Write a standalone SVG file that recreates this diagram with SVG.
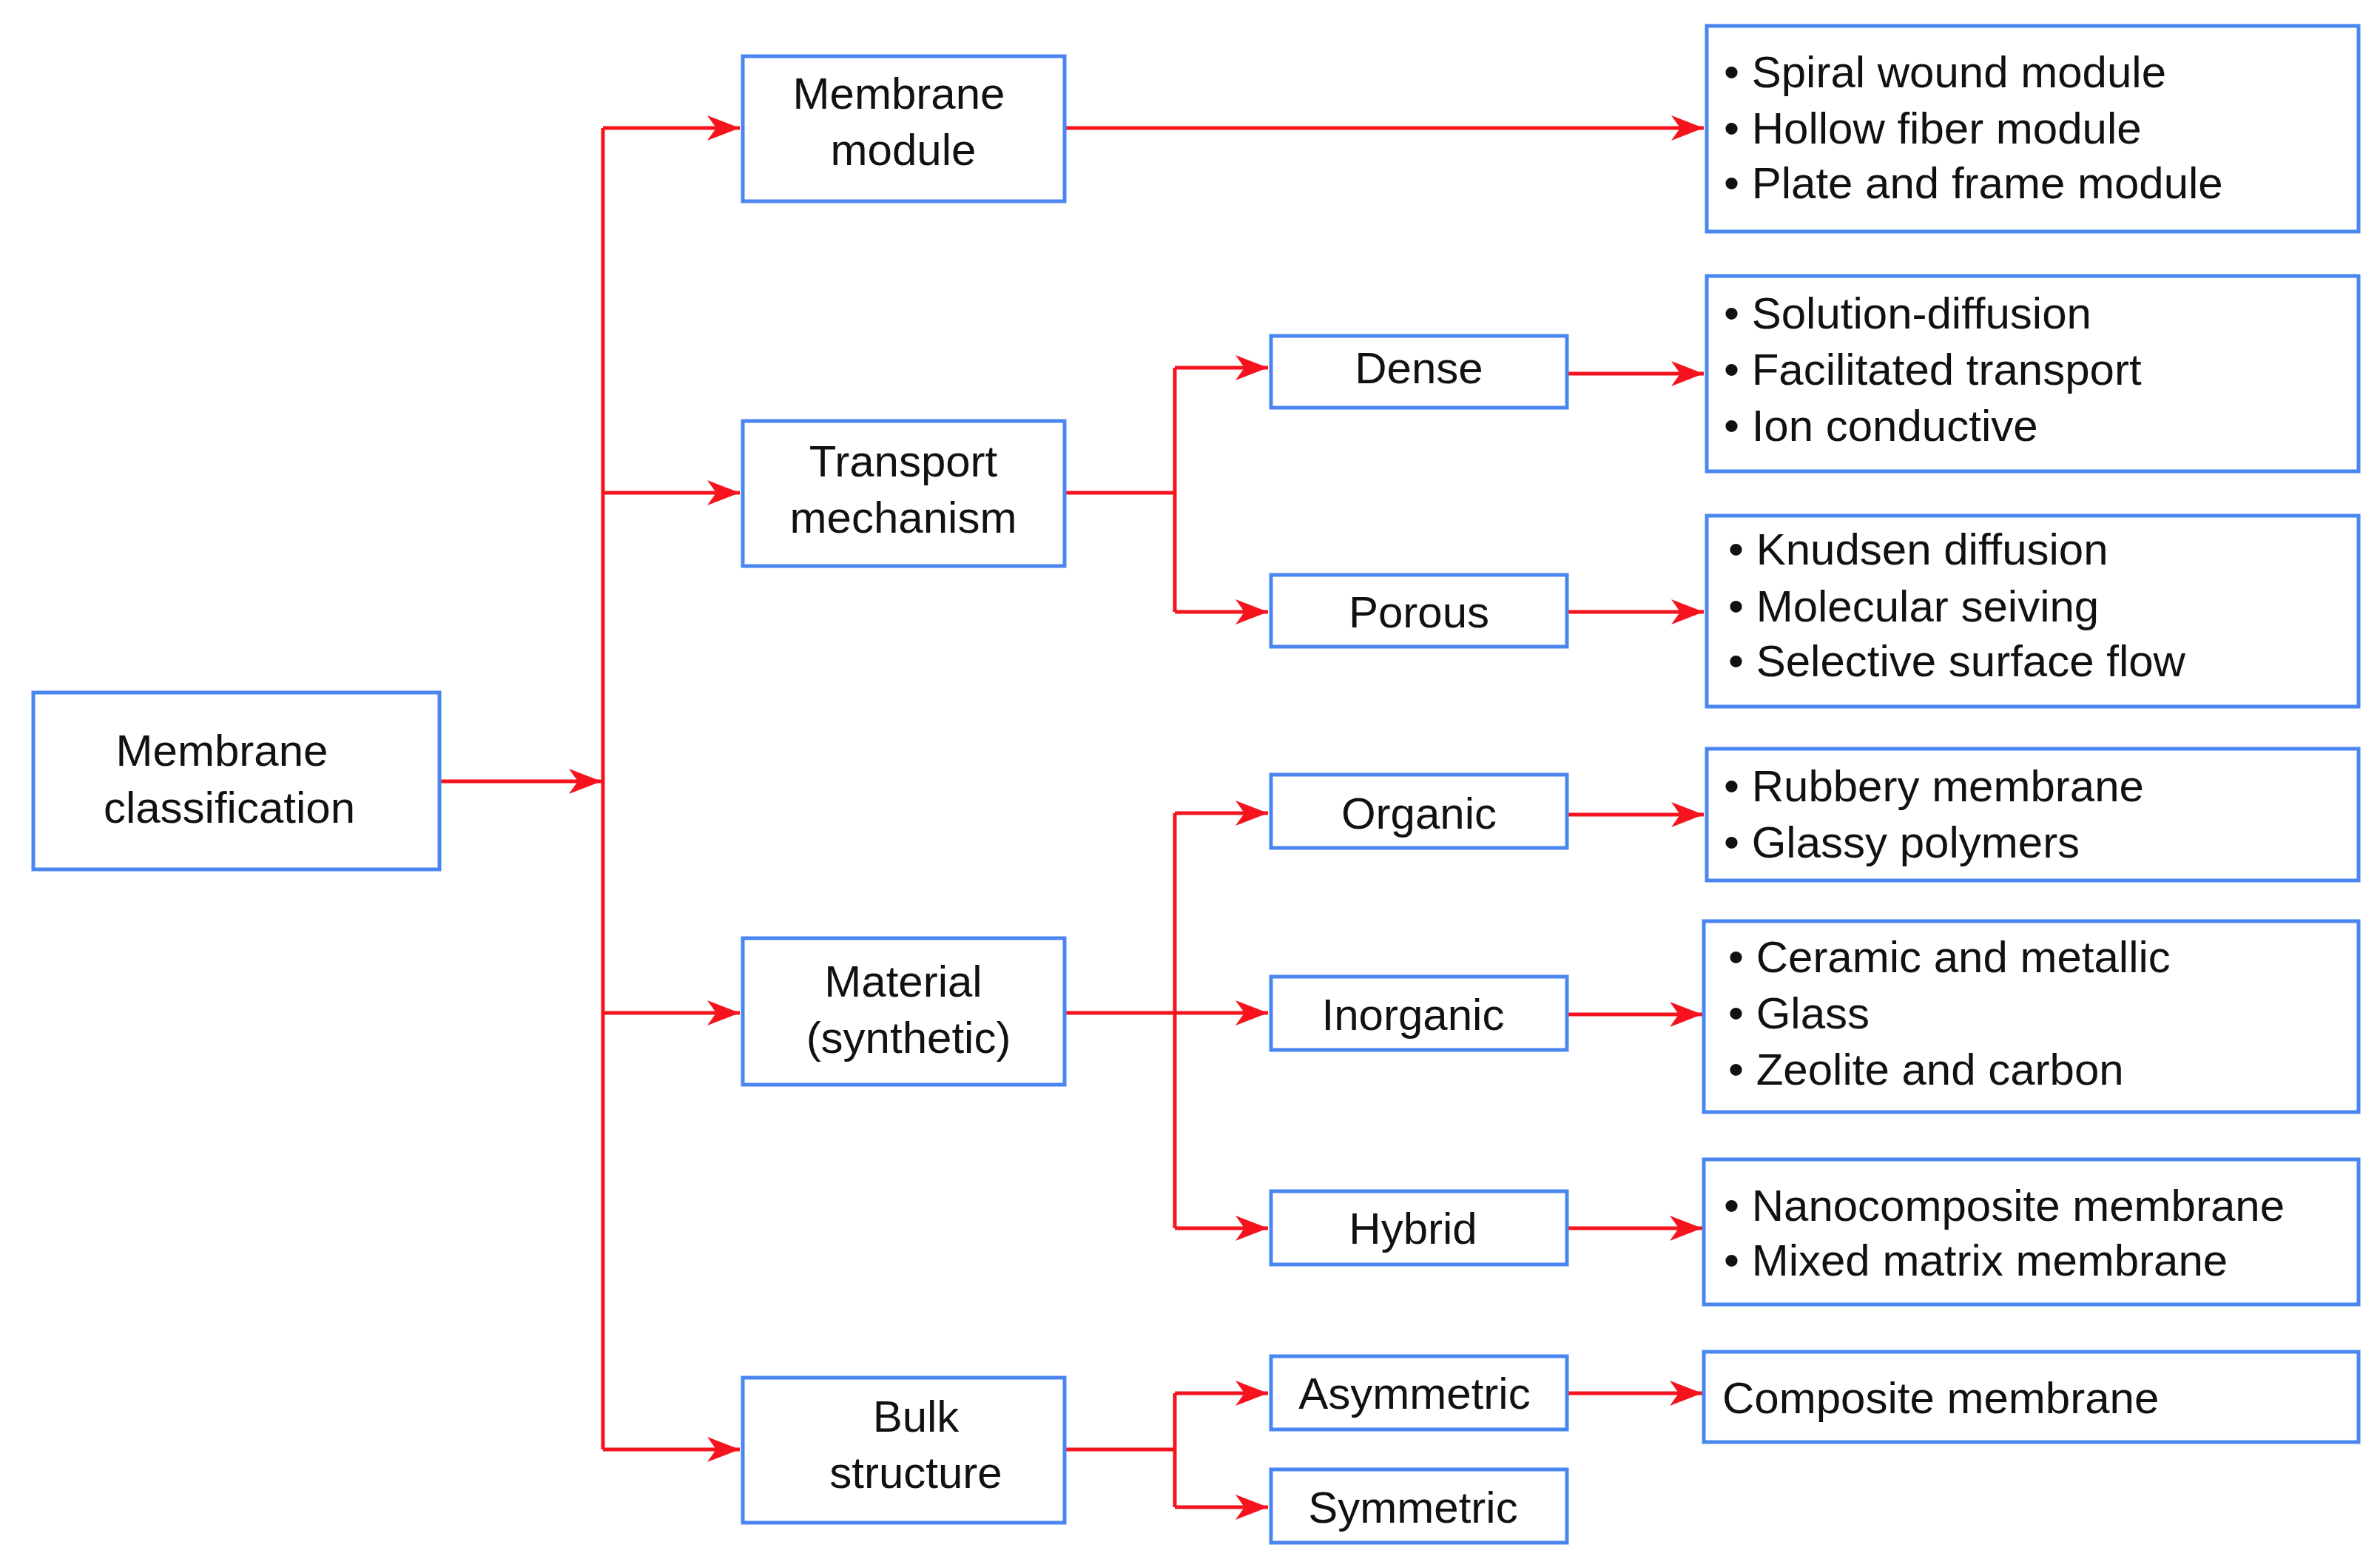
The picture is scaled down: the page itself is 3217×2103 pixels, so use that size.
<svg xmlns="http://www.w3.org/2000/svg" width="3217" height="2103" viewBox="0 0 3217 2103">
<style>
.b{fill:#fff;stroke:#4a86f0;stroke-width:5}
.t{font-family:"Liberation Sans",Arial,sans-serif;font-size:60px;fill:#111;dominant-baseline:central}
.m{text-anchor:middle}
.c{fill:none;stroke:#f5141e;stroke-width:5}
</style>
<defs>
<marker id="a" markerUnits="userSpaceOnUse" markerWidth="46" markerHeight="36" refX="44" refY="17" orient="auto">
<path d="M0,0 L44,17 L0,34 L12,17 z" fill="#f5141e"/>
</marker>
</defs>
<rect width="3217" height="2103" fill="#fff"/>
<g id="connectors">
<path class="c" d="M594,1056H813" marker-end="url(#a)"/>
<path class="c" d="M815,173V1959"/>
<path class="c" d="M815,173H1000" marker-end="url(#a)"/>
<path class="c" d="M815,666H1000" marker-end="url(#a)"/>
<path class="c" d="M815,1369H1000" marker-end="url(#a)"/>
<path class="c" d="M815,1959H1000" marker-end="url(#a)"/>
<path class="c" d="M1439,173H2303" marker-end="url(#a)"/>
<path class="c" d="M1439,666H1588"/>
<path class="c" d="M1588,497V827"/>
<path class="c" d="M1588,497H1714" marker-end="url(#a)"/>
<path class="c" d="M1588,827H1714" marker-end="url(#a)"/>
<path class="c" d="M1439,1369H1714" marker-end="url(#a)"/>
<path class="c" d="M1588,1099V1660"/>
<path class="c" d="M1588,1099H1714" marker-end="url(#a)"/>
<path class="c" d="M1588,1660H1714" marker-end="url(#a)"/>
<path class="c" d="M1439,1959H1588"/>
<path class="c" d="M1588,1883V2037"/>
<path class="c" d="M1588,1883H1714" marker-end="url(#a)"/>
<path class="c" d="M1588,2037H1714" marker-end="url(#a)"/>
<path class="c" d="M2118,505H2303" marker-end="url(#a)"/>
<path class="c" d="M2118,827H2303" marker-end="url(#a)"/>
<path class="c" d="M2118,1101H2303" marker-end="url(#a)"/>
<path class="c" d="M2118,1371H2301" marker-end="url(#a)"/>
<path class="c" d="M2118,1660H2301" marker-end="url(#a)"/>
<path class="c" d="M2118,1883H2301" marker-end="url(#a)"/>
</g>
<g id="classification"><rect class="b" x="45" y="936" width="549" height="239"/><text class="t m" x="300" y="1014">Membrane</text><text class="t m" x="310" y="1091">classification</text></g>
<g id="module"><rect class="b" x="1004" y="76" width="435" height="196"/><text class="t m" x="1215" y="126">Membrane</text><text class="t m" x="1221" y="202">module</text></g>
<g id="transport"><rect class="b" x="1004" y="569" width="435" height="196"/><text class="t m" x="1221" y="623">Transport</text><text class="t m" x="1221" y="699">mechanism</text></g>
<g id="material"><rect class="b" x="1004" y="1268" width="435" height="198"/><text class="t m" x="1221" y="1326">Material</text><text class="t m" x="1228" y="1402">(synthetic)</text></g>
<g id="bulk"><rect class="b" x="1004" y="1862" width="435" height="196"/><text class="t m" x="1238" y="1914">Bulk</text><text class="t m" x="1238" y="1990">structure</text></g>
<g id="dense"><rect class="b" x="1718" y="454" width="400" height="97"/><text class="t m" x="1918" y="497">Dense</text></g>
<g id="porous"><rect class="b" x="1718" y="777" width="400" height="97"/><text class="t m" x="1918" y="827">Porous</text></g>
<g id="organic"><rect class="b" x="1718" y="1047" width="400" height="99"/><text class="t m" x="1918" y="1099">Organic</text></g>
<g id="inorganic"><rect class="b" x="1718" y="1320" width="400" height="99"/><text class="t m" x="1910" y="1371">Inorganic</text></g>
<g id="hybrid"><rect class="b" x="1718" y="1610" width="400" height="99"/><text class="t m" x="1910" y="1660">Hybrid</text></g>
<g id="asymmetric"><rect class="b" x="1718" y="1833" width="400" height="99"/><text class="t m" x="1912" y="1883">Asymmetric</text></g>
<g id="symmetric"><rect class="b" x="1718" y="1986" width="400" height="99"/><text class="t m" x="1910" y="2037">Symmetric</text></g>
<g id="modules-list"><rect class="b" x="2307" y="35" width="881" height="278"/><text class="t" x="2330" y="97">• Spiral wound module</text><text class="t" x="2330" y="173">• Hollow fiber module</text><text class="t" x="2330" y="247">• Plate and frame module</text></g>
<g id="dense-list"><rect class="b" x="2307" y="373" width="881" height="264"/><text class="t" x="2330" y="423">• Solution-diffusion</text><text class="t" x="2330" y="499">• Facilitated transport</text><text class="t" x="2330" y="575">• Ion conductive</text></g>
<g id="porous-list"><rect class="b" x="2307" y="697" width="881" height="258"/><text class="t" x="2336" y="742">• Knudsen diffusion</text><text class="t" x="2336" y="819">• Molecular seiving</text><text class="t" x="2336" y="893">• Selective surface flow</text></g>
<g id="organic-list"><rect class="b" x="2307" y="1012" width="881" height="178"/><text class="t" x="2330" y="1062">• Rubbery membrane</text><text class="t" x="2330" y="1138">• Glassy polymers</text></g>
<g id="inorganic-list"><rect class="b" x="2303" y="1245" width="885" height="258"/><text class="t" x="2336" y="1293">• Ceramic and metallic</text><text class="t" x="2336" y="1369">• Glass</text><text class="t" x="2336" y="1445">• Zeolite and carbon</text></g>
<g id="hybrid-list"><rect class="b" x="2303" y="1567" width="885" height="196"/><text class="t" x="2330" y="1629">• Nanocomposite membrane</text><text class="t" x="2330" y="1703">• Mixed matrix membrane</text></g>
<g id="composite"><rect class="b" x="2303" y="1827" width="885" height="122"/><text class="t" x="2328" y="1889">Composite membrane</text></g>
</svg>
